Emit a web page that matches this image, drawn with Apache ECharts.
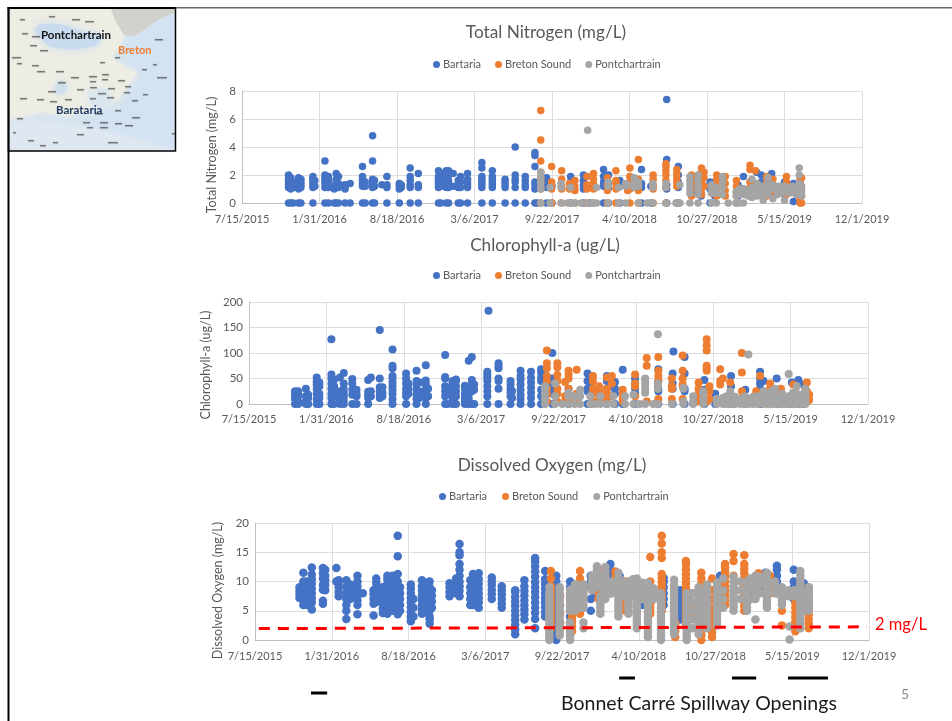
<!DOCTYPE html>
<html><head><meta charset="utf-8">
<style>html,body{margin:0;padding:0;background:#fff}#c{width:952px;height:721px}</style>
<script src="https://cdn.jsdelivr.net/npm/echarts@6/dist/echarts.min.js"></script>
</head><body><div id="c"></div>
<script>
// x values are Excel date serials; each column = [date, value, value, ...]
const xTickLabels=['7/15/2015','1/31/2016','8/18/2016','3/6/2017','9/22/2017','4/10/2018','10/27/2018','5/15/2019','12/1/2019'];
const seriesNames=['Bartaria','Breton Sound','Pontchartrain'];
const chartTitles=['Total Nitrogen (mg/L)','Chlorophyll-a (ug/L)','Dissolved Oxygen (mg/L)'];

const tnBlue=[[42320,0,1.1,1.3,1.5,1.7,2],[42326,0,1,1.2,1.4,1.6,1.8],[42332,0,1.1,1.5],[42346,0,1,1.2,1.4,1.6,1.8],[42352,0,1.1,1.3,1.5,1.7],[42383,0,1.1,1.3,1.5,1.7,1.9],[42388,1.2,1.6],[42414,0,3,2,1.8,1.6,1.4,1.1],[42423,0,1.1,1.5,1.7,1.9],[42438,0,1,1.2],[42443,0,1.1,1.3,1.5,1.7,2.1],[42449,0,1.1,1.4,1.9],[42466,0,1,1.2,1.3],[42479,0,1.4],[42511,0,1.2,1.4,1.6,1.9,2.6],[42518,0,1.2,1.5],[42537,0,1.1,1.3,1.5,1.7,3,4.8],[42542,0,1.2,1.6],[42561,1.3],[42574,0,1.1,1.3,1.9],[42606,0,1,1.2,1.4],[42611,1.1,1.3],[42634,0,1.1,1.3,1.6,1.9,2.5],[42655,0,1.1,1.3,2.1],[42707,0,1.1,1.3,1.5,1.7,1.9,2.3],[42713,0,1.2,1.6,2.1],[42727,0,1.1,1.4,1.8,2.3],[42733,0,1.1,1.3,1.6,2,2.3],[42745,1.2,2.1],[42758,0,1.1,1.3,1.6],[42764,0,1.1,1.5,1.9],[42782,0,1.1,1.3,1.5,1.7,2.1],[42819,0,1.1,1.3,1.5,1.7,1.9,2.5,2.9],[42846,0,1.1,1.3,1.5,1.7,1.9,2.3],[42879,0,1.1,1.3,1.5,1.7],[42905,0,1.1,1.5,1.7,2,4],[42931,0,1.1,1.3,1.6,1.9],[42956,0,1,1.3,1.5,2.6,3.4,3.6],[42962,0,1.3],[42986,0,1.1,1.4,1.8],[43000,0,1.2],[43048,0,1.2,1.5,1.9],[43081,0,1,1.3,1.6,2],[43097,0,1.2],[43133,0,1.2,1.5,1.9,2.4],[43146,0,1.1,1.4,2],[43175,0,1.2,1.6],[43231,0,1.1,1.4,2.4],[43255,0,1.2],[43296,0,1,1.3,3.1,7.4],[43326,0,1.1,1.5,2,2.6],[43362,0.6,1,1.3,1.7],[43385,0.5,1,1.5],[43408,0,1,1.5],[43420,0.5,1,1.5],[43480,0.5,0.9,1.3],[43494,1,1.9],[43528,0.7,1.2,2.2],[43540,0.9,1.5,2],[43567,0.9,1.4,2.1],[43600,0.6,1.3,1.5],[43623,0.1,0.8,1.4],[43640,0.8,1.5]];
const tnOrange=[[42971,0,1,1.5,1.8,2.2,3,4.5,6.6],[42999,0,1,1.3,1.5,2.6],[43025,0,1,1.2,1.7,2.3],[43045,1,1.4],[43059,0,0.9,1.2,1.6],[43090,0,1,1.3,1.9],[43107,0,1,1.4,1.7,2.1],[43143,0,0.9,1.3,1.8],[43165,0,1,1.4,1.6,2.3],[43195,0.9,1.3],[43201,0,1,1.5,1.9,2.5],[43223,0,0.9,1.4,1.7,3.1],[43261,0,1,1.3,1.7,2],[43294,0,1.1,1.6,2,2.3,2.6,2.8],[43322,0,1.2,1.5,1.8,2.1,2.4],[43360,0.5,1,1.4,1.8,2],[43386,0.6,1,1.5,1.9,2.3,2.5],[43392,1.2,1.8,2.2],[43425,0.5,1,1.3,1.7,2],[43447,0.5,0.9,1.4,1.9],[43476,0,0.8,1.2,1.6],[43511,0.7,1.1,1.5,2.4,2.7],[43525,0.8,1.3,2.3],[43554,0.5,1,1.5,1.9],[43570,0.6,1.1,1.7],[43605,0.6,1,1.5,1.9],[43640,0,0.3,0.7,1.1,1.4,1.7],[43644,0,0.5,1,1.8]];
const tnGray=[[42971,0,1,1.2,1.5,1.8,2.2],[42995,0,1.1],[43023,0,1.1,1.4],[43040,0],[43048,0,1.1],[43060,0],[43075,0],[43092,0,5.2],[43105,0],[43115,0,1.1],[43145,0,1.2,1.5],[43172,0,1.1],[43190,0,1.2,1.4],[43195,1.3],[43212,1.1,1.4,1.8],[43223,0,1.2,1.5],[43245,0],[43260,0,1.1,1.4],[43294,0,1.1,1.4],[43320,0],[43330,0,1.3],[43356,0,0.7,1,1.3,1.6,1.9],[43377,0,0.6,0.9,1.2,1.6,2],[43412,0,0.7,1,1.3],[43424,0,0.7,1.1],[43440,0.6,1.1,1.5,1.9],[43455,0],[43475,0,0.5,0.8],[43484,0,0.6,1],[43494,0,0.6,1],[43506,0.5,0.9],[43516,0.4,0.8,1.1,1.7],[43530,0.5,0.9,1.4],[43538,0.6,1],[43545,0.2,0.8,1.2],[43558,0.6,1.1,1.5,1.8],[43570,0.3,1,1.3],[43582,0.6,1,1.2],[43590,0.7,1.2],[43600,0.2,0.8,1.2],[43612,0.7,1],[43620,0.8,1.2],[43630,0.6,1],[43638,0.6,1,1.4,2,2.5],[43644,0.5,0.8,1.2]];

const chlBlue=[[42319,0,10,15,20,25],[42327,0,5,15,20,25],[42347,0,5,15,30],[42353,0,12,18],[42375,0,10,20,30,38,44,52],[42382,0,12,20,35,42],[42413,0,12,20,30,40,50,58,127],[42420,0,15,25,35,48],[42435,0,5,10,18,25,52],[42445,0,8,15,22,30,40,61],[42467,0,18,28,40,49],[42478,0,15,20,28],[42508,0,12,18,24,47],[42515,15,25,52],[42538,12,18,25,33,50,145],[42545,15,22,33],[42571,0,10,20,28,35,42,50,55,70,75,107],[42606,0,15,22,30,40,50,60],[42612,20,30,40],[42633,0,10,18,28,38,45,65],[42640,12,25,42],[42657,0,12,20,28,38,46,76],[42663,15,30],[42707,0,15,25,35,50,53,96],[42713,0,20,32],[42726,0,12,20,30,40,45],[42735,0,15,25,35,45,48],[42758,0,5,12,20,30,36],[42768,0,10,18,85],[42776,0,25,35,40,47,92],[42782,0,28,38],[42816,0,15,25,35,45,52,58,63],[42819,183],[42845,0,30,45,50,70,75,80],[42876,0,15,22,30,38,45],[42880,12,25],[42902,0,10,18,28,38,48,55,65],[42929,0,12,22,32,42,52,63],[42955,0,15,28,45,52,62,68],[42984,0,20,35,50,100],[43026,0,20,30],[43075,0,25,30,45,60],[43083,0,40,55],[43125,0,30,45,55],[43146,0,20,30,43],[43166,0,67],[43198,0,20,30,40,50],[43258,0,25,30,45,68],[43295,0,30,40,60],[43297,103],[43326,0,25,30,60,92],[43377,0,28,47],[43405,0,20],[43446,0,35,55],[43483,0,28],[43521,0,30,40,50,63],[43530,20,45],[43564,0,50],[43603,0,42],[43620,0,47],[43633,0,38]];
const chlOrange=[[42970,5,20,30,45,55,70,80,105],[42997,5,20,30,45,57,72,80],[43017,5,15,43],[43026,10,30,50,58,65],[43047,5,20,67],[43089,5,20,30,45,55],[43105,10,25,35],[43125,10,20,30,52],[43138,15,40,55],[43166,5,10,20,28],[43198,15,35,40,58],[43228,5,75,90],[43258,10,45,55,65,92],[43293,10,30,35,50],[43321,10,35,38,50,65,95],[43362,5,10,20,30,42],[43383,5,65,70,75,105,115,127],[43390,10,25,35],[43418,5,38,45,68],[43425,50],[43444,15,42],[43474,10,25,62,100],[43511,5,25],[43521,10,55],[43547,10,30,40],[43575,5,20,30],[43607,5,15,38],[43642,5,10,15,25,42],[43648,8,18]];
const chlGray=[[42965,0,10,20,30,35],[42991,0,15,40],[43010,0],[43026,0,15,22],[43042,0,15],[43056,0,15,28],[43082,0,15],[43095,0],[43108,0,15],[43125,0],[43142,0,15],[43172,0,15],[43194,0,18],[43210,0],[43224,0,22,30,38,45,50],[43245,0],[43257,0,30,35,40,137],[43293,0],[43323,0,5,30,32],[43348,0,5,15],[43374,0,10,20,25],[43409,0,10],[43425,0,5,12],[43434,0,8,15],[43444,0,5,15,25],[43456,0,8,14],[43470,0,5,10],[43482,0,7,15],[43491,0,10,97],[43503,0,6,14],[43515,0,8,15],[43530,0,10,20,25],[43541,0,5,12,20],[43551,0,8,15,25],[43560,0,8,15,30],[43570,0,5,12],[43578,0,10,20],[43587,0,6,14],[43595,0,8,15,59],[43606,0,5,12,22],[43616,0,10,20,35],[43628,0,8,18],[43638,0,5,10,15,20,25,30]];

const doBlue=[[42316,7.2,7.8,8.4,9],[42326,6,6.8,7.6,8.4,9.2,10,11.5],[42335,6,7,7.8,8.6,9.4,10],[42348,5.2,6.4,7.2,8,8.8,9.6,10.4,11.2,12.4],[42377,6.2,6.7,8.6,9.4,10.5,11.4,12.3],[42383,8.5,9.4,10.2,11,12],[42412,10,12.3],[42418,7.5,8.2,9,9.6,10.2],[42438,3.6,5,6,7,8,9,10.2],[42448,7,7.8,8.6,9.5],[42467,4.4,6,6.8,7.6,8.4,9.2,10,11],[42481,8],[42509,4.2,6.2,7,7.8,8.5],[42516,6.5,7.3,8.2,9,9.8,10.5],[42533,4.6,5.4,6.2,7,7.8,8.6,9],[42545,4.5,5.4,6.2,7.1,8,8.8,9.6,10.4,11],[42559,5,5.8,6.6,7.4,8.2,9,9.8,11],[42572,4.4,5.2,6,6.8,7.6,8.4,9.2,10,11.3,14.3,17.8],[42578,5,6,7,8,9],[42606,3.2,4,4.8,5.6,6.4,7.2,8,8.8,9.5],[42613,4,5.5,7],[42635,4.5,5.2,6,6.8,7.6,8.4,9.2,10.2],[42644,5,6.5,8.5,9.8],[42655,2.8,3.5,4,5,5.8,6.6,7.4,8.2,9,10],[42661,5.5,6.6,7.6,8.5],[42707,7.5,8.2,9,9.7],[42724,8,8.8,9.6,10.5],[42733,7.5,8.4,9.2,10,11,12,13,14.5,15,16.4],[42761,6,7,8,9,10.2],[42768,6,7,8,9,10,11.3],[42783,5.5,6.4,7.2,8,8.8,9.6,10.4,11.4],[42817,7,7.8,8.6,9.4,10,10.7],[42843,5.5,6.2,7,7.8,8.5,9.2],[42878,1,1.8,2.6,3.4,4.2,5,5.8,6.6,7.4,8.2,8.5],[42902,3.5,4.4,5.2,6,6.8,7.6,8.4,9.2,10.2],[42930,2,3.6,4.6,5.5,6.4,7.3,8.2,9,9.9,10.8,11.7,12.6,13.4,14],[42956,4,4.8,5.6,6.4,7.2,8,8.8,9.6,10.4,11.8],[42985,0,1,2,3,4,5,6,7,8,9,10,11],[43021,3,4,5,6,7,8,9,10],[43030,7,8,9.5],[43075,5,7,9,10,11],[43085,8,9,10],[43126,8,9,10,11,12,13],[43150,8,9.5,11],[43195,5,6,7,8],[43210,6,7.5],[43265,6,7,8,9,10,10.6],[43308,3.5,4.5,5.5,6.5,7.5,8.5],[43330,6,7,8],[43412,8,9,10,11],[43490,7,8,9],[43530,8.5,10.5,11.5],[43560,8,9,10,11,12,12.7],[43604,7,8,9,10,12],[43630,7,8,9,9.7]];
const doOrange=[[42971,2,2.8,3.6,4.4,5.2,6,6.8,7.6,8.4,9.2,10.5,11.8],[42995,2,3,4.5,6,7.5],[43026,1.5,2.3,3.1,3.9,4.7,5.5,6.3,7],[43047,4.5,5.3,6.1,6.9,7.7,8.5,9.3,10.5,11.8],[43095,7,8,9,10],[43108,8,12],[43139,9,10,10.8,11.7],[43165,5,5.8,6.6,7.4,8.2,9,10],[43195,4.6,5.5],[43230,4.5,5.3,6.1,6.9,7.7,8.5,10,14.2],[43260,5,5.8,6.6,7.4,8.2,9,9.8,10.6,11.3,14,15,16.5,17.8],[43295,0.5,1.5,2.5,3],[43323,2.5,3.3,4.1,4.9,5.7,6.5,7.3,8.1,8.9,9.7,10.5,11.3,12.1,13,13.5],[43344,4,6,8],[43363,0,0.8,1.6,2.4,3.2,4,4.8,5.6,6.4,7.2,8,8.8,9.6,10.5,11.5],[43391,0.5,1.3,2.1,2.9,3.7,4.5,5.5,7,8.5,10.5],[43425,6,6.8,7.6,8.4,9.2,10,10.8,11.6,12.4,13],[43447,11,13.5,14.7],[43475,5,5.8,6.6,7.4,8.2,9,9.8,10.6,11.4,12.2,13,14.5],[43512,8,9,10,11.4],[43542,8,9.5,11],[43573,2.5,5],[43608,1.5,2.3,3.1,3.9,4.7,5.5,6.3,7],[43643,2,2.8,3.6,4.4,5.2,6,6.8,7.6,8.4,9]];
const doGray=[[42967,0,0.5,1,1.6,2.2,2.8,3.4,4,4.6,5.2,5.8,6.4,7,7.6,8.2,9],[42994,0.8,1.4,2,2.6,3.2,3.8,4.4,5,5.6,6.2,6.8,7.4,8,8.6,9],[43021,0,0.7,1.4,2.2,3,5,5.6,6.2,6.8,7.4,8,8.6],[43034,5,5.6,6.3,7,7.7,8.4,9,9.5],[43045,5.5,6.5,7.5,8.5,9.4],[43056,2,3,5.5,6.1,6.7,7.3,7.9,8.5,9,9.5],[43078,8.5,9.2,10,11],[43091,9,9.6,10.2,10.8,11.4,12,12.6],[43100,4.5,5,5.6,6.2,6.8,7.5,9,10,11],[43113,7,7.6,8.2,8.8,9.4,10,10.6,11.2,11.8,12.5],[43130,8,9,10],[43147,4,4.6,5.2,5.8,6.4,7,7.6,8.2,8.8,9.4,10,10.6,11.5],[43160,7.5,8.5,9.5,10],[43173,4.5,5.1,5.7,6.3,6.9,7.5,8.1,8.7,9.3,10],[43185,7.5,8.5,9.5,10.4],[43195,2,2.6,3.2,3.8,4.4,5,5.6,6.2,6.8,7.4,8,8.6,9.2,9.8,10.5],[43210,7,8,9,9.8],[43224,0.5,1.1,1.7,2.3,2.9,3.5,4.1,4.7,5.3,5.9,6.5,7.1,7.7,8.3,9,9.8],[43240,7,8,8.8],[43258,0,0.6,1.2,1.8,2.4,3,3.6,4.2,4.8,5.4,6,6.6,7.2,8],[43292,1,1.6,2.2,2.8,3.4,4,4.6,5.2,5.8,6.4,7,7.6,8.2,8.8,9.4,10.3],[43325,0,0.6,1.2,1.8,2.4,3,3.6,4.2,4.8,5.4,6,6.6,7.2,8],[43340,2,3.5,5,6.5,8],[43356,1,1.6,2.2,2.8,3.4,4,4.6,5.2,5.8,6.4,7,7.6,8.2,9],[43368,4,5.5,7,8.5],[43378,2,2.6,3.2,3.8,4.4,5,5.6,6.2,6.8,7.4,8,8.6,9.5],[43404,2.5,3.1,3.7,4.3,4.9,5.5,6.1,6.7,7.3,7.9,8.5,9.2,9.8],[43420,5.5,7,8.5,10.5],[43447,5,5.6,6.2,6.8,7.4,8,8.6,9.2,10,10.8],[43465,7,8.5,10],[43482,5,5.6,6.2,6.8,7.4,8,8.6,9.2,10],[43491,7,9,10.5],[43504,3.5,7,7.6,8.2,8.8,9.4,10,11],[43517,8,9.5,10.8],[43534,5.5,6.1,6.7,7.3,7.9,8.5,9.1,9.7,10.3,11,11.5],[43555,8,9,10],[43573,6,6.6,7.2,7.8,8.4,9],[43590,7.5,8.5],[43593,0.1,2.3],[43605,7.5,8.5],[43621,2,2.6,3.2,3.8,4.4,5,5.6,6.2,6.8,7.4,8,8.6,9.2,9.8,10.4,11,11.8],[43632,5,6.5,8],[43643,5,5.6,6.2,6.8,7.4,8,8.6,9]];

const doThreshold=[[42210,1.95],[43795,2.25]];
const spillwayOpenings=[[42346,0],[42388,0],[null,null],[43149,1],[43190,1],[null,null],[43443,1],[43506,1],[null,null],[43589,1],[43693,1]];

const blue='#4472C4',orange='#ED7D31',gray='#A5A5A5',ink='#595959';
const font='Lato';
const expand=cols=>cols.flatMap(c=>c.slice(1).map(v=>[c[0],v]));
const layouts=[
 {l:242,r:862,t:91,b:203,max:8,step:2,name:'Total Nitrogen (mg/L)',nameGap:14,pad:[0,16,0,0],titleX:541,titleY:32,legY:64,legX:428,legGap:14},
 {l:249,r:868,t:302,b:404,max:200,step:50,name:'Chlorophyll-a (ug/L)',nameGap:26,pad:[0,24,0,0],titleX:540,titleY:245,legY:275,legX:428,legGap:14},
 {l:255,r:869,t:523,b:640,max:20,step:5,name:'Dissolved Oxygen (mg/L)',nameGap:20,pad:[0,18,0,0],titleX:547,titleY:465,legY:496,legX:434,legGap:15}
];
const data=[[tnBlue,tnOrange,tnGray],[chlBlue,chlOrange,chlGray],[doBlue,doOrange,doGray]];
const symbolSizes=[7.5,8,8.5];
const grid=[],xAxis=[],yAxis=[],series=[],legend=[],title=[];
layouts.forEach((g,i)=>{
 grid.push({left:g.l,width:g.r-g.l,top:g.t,height:g.b-g.t,containLabel:false});
 xAxis.push({type:'value',gridIndex:i,min:42200,max:43800,interval:200,
  axisLine:{onZero:false,lineStyle:{color:'#BFBFBF',width:1}},axisTick:{show:false},
  axisLabel:{color:ink,fontFamily:font,fontSize:11,margin:[11,10,11][i],hideOverlap:false,showMinLabel:true,showMaxLabel:true,
    formatter:v=>xTickLabels[Math.round((v-42200)/200)]},
  splitLine:{show:true,lineStyle:{color:'#DDDDDD',width:1}}});
 yAxis.push({type:'value',gridIndex:i,min:0,max:g.max,interval:g.step,
  name:g.name,nameLocation:'middle',nameGap:g.nameGap,nameTextStyle:{color:ink,fontFamily:font,fontSize:12.5,padding:g.pad},
  axisLine:{show:true,lineStyle:{color:'#BFBFBF',width:1}},axisTick:{show:false},
  axisLabel:{color:ink,fontFamily:font,fontSize:11.5,margin:6},
  splitLine:{show:true,lineStyle:{color:'#DDDDDD',width:1}}});
 seriesNames.forEach((n,k)=>series.push({type:'scatter',name:n,xAxisIndex:i,yAxisIndex:i,data:expand(data[i][k]),
   symbol:'circle',symbolSize:symbolSizes[i],itemStyle:{color:[blue,orange,gray][k],opacity:1},z:3+k,silent:true,animation:false,large:false}));
 legend.push({data:seriesNames,left:g.legX,top:g.legY-10,icon:'circle',itemWidth:7,itemHeight:7,itemGap:g.legGap,
   textStyle:{color:ink,fontFamily:font,fontSize:11,padding:[0,0,0,-2]},selectedMode:false});
 title.push({text:chartTitles[i],left:g.titleX,top:g.titleY-13.5,textAlign:'center',textStyle:{color:ink,fontFamily:font,fontSize:17.2,fontWeight:'normal'}});
});
// threshold line on the oxygen chart
series.push({type:'line',name:'2 mg/L',xAxisIndex:2,yAxisIndex:2,data:doThreshold,showSymbol:false,z:10,animation:false,
  lineStyle:{color:'#FF0000',width:3,type:[11,8]}});
// spillway bars on their own strip sharing the oxygen chart's x scale
grid.push({left:255,width:614,top:678,height:15});
xAxis.push({type:'value',gridIndex:3,min:42200,max:43800,show:false,splitLine:{show:false}});
yAxis.push({type:'value',gridIndex:3,min:0,max:1,show:false,splitLine:{show:false}});
series.push({type:'line',name:'Spillway',xAxisIndex:3,yAxisIndex:3,data:spillwayOpenings,showSymbol:false,connectNulls:false,animation:false,clip:false,
  lineStyle:{color:'#000',width:3,cap:'butt'}});

// decorative inset map
const mapMarks=[[72,19,8],[85,21,9],[49,16,6],[20,19,5],[22,33,6],[32,36,8],[30,45,7],[40,50,8],[12,57,9],[17,63,5],[32,65,7],[37,71,8],[56,71,8],[58,82,8],[71,77,8],[89,76,8],[90,81,6],[102,74,7],[118,80,7],[102,79,6],[48,91,8],[77,89,7],[90,87,7],[108,88,7],[125,86,6],[124,92,6],[98,93,8],[20,98,7],[37,99,7],[50,101,7],[65,99,7],[90,98,6],[107,97,7],[132,100,6],[143,94,5],[115,110,6],[95,113,8],[132,117,8],[125,125,8],[115,123,7],[100,122,8],[100,127,8],[83,122,7],[87,127,6],[17,118,6],[77,134,7],[108,142,10],[53,142,5],[40,145,6],[28,140,6],[157,77,10],[142,69,5],[153,64,4],[155,39,8],[115,57,5],[100,62,5],[172,133,3],[13,132,3]];
const soft=(points,fill,z)=>({type:'polygon',shape:{points},style:{fill,shadowBlur:8,shadowColor:fill},z});
const map=[
 {type:'rect',shape:{x:9,y:8,width:167,height:143},style:{fill:'#D3E3F2'},z:1},
 soft([[10,9],[112,9],[124,38],[112,58],[126,68],[138,72],[126,88],[118,100],[100,108],[68,116],[40,112],[10,120]],'#EEEDE4',2),
 soft([[34,30],[40,24],[60,24],[82,31],[104,36],[96,46],[72,50],[50,47],[42,40]],'#C9DCEF',3),
 {type:'polygon',shape:{points:[[111,9],[175,9],[175,12],[158,20],[135,36],[124,35],[116,22]]},style:{fill:'#D2D1CC'},z:3},
 soft([[55,85],[62,80],[68,88],[62,95],[54,92]],'#D0DFEC',3),
 soft([[86,92],[108,88],[112,104],[94,110]],'#DCE6EE',3),
 soft([[10,120],[50,122],[90,128],[140,140],[175,150],[10,150]],'#DFE8F1',3)
];
mapMarks.forEach(m=>map.push({type:'rect',shape:{x:m[0],y:m[1],width:m[2],height:1.4},style:{fill:'#3a3a3a',opacity:0.55,shadowBlur:1.5,shadowColor:'#777'},z:4}));
const txt=(x,y,t,o)=>({type:'text',x,y,style:Object.assign({text:t,fontFamily:font,textVerticalAlign:'middle'},o),z:20});
const graphic=[...map,
 {type:'rect',shape:{x:0,y:151,width:8,height:1},style:{fill:'#fff'},z:8},
 {type:'rect',shape:{x:9,y:151,width:167,height:3},style:{fill:'#fff'},z:8},
 {type:'rect',shape:{x:175.5,y:8,width:4,height:144},style:{fill:'#fff'},z:8},
 {type:'rect',shape:{x:8.5,y:8,width:167,height:143},style:{fill:'none',stroke:'#000',lineWidth:1.5},z:9},
 {type:'rect',shape:{x:7.5,y:7,width:2,height:714},style:{fill:'#000'},z:9},
 {type:'rect',shape:{x:7.5,y:7,width:168,height:2},style:{fill:'#000'},z:9},
 {type:'rect',shape:{x:176,y:7,width:776,height:1.5},style:{fill:'#666'},z:9},
 txt(41,35,'Pontchartrain',{fontSize:11.5,fontWeight:'bold',fill:'#111'}),
 txt(118,50,'Breton',{fontSize:11,fontWeight:'bold',fill:'#ED7D31'}),
 txt(56,110,'Barataria',{fontSize:11.5,fontWeight:'bold',fill:'#1F3864'}),
 txt(875,625,'2 mg/L',{fontSize:16.5,fill:'#FF0000'}),
 txt(561,703.5,'Bonnet Carré Spillway Openings',{fontSize:19.5,fill:'#1a1a1a'}),
 txt(901,694,'5',{fontSize:14,fill:'#8C8C8C'})
];
const chart=echarts.init(document.getElementById('c'),null,{renderer:'canvas'});
chart.setOption({animation:false,backgroundColor:'#fff',title,legend,grid,xAxis,yAxis,series,graphic});
</script></body></html>
